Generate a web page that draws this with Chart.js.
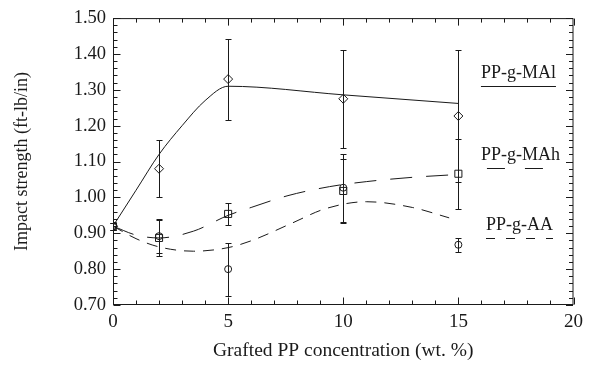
<!DOCTYPE html>
<html>
<head>
<meta charset="utf-8">
<title>Impact strength vs grafted PP concentration</title>
<script src="https://cdn.jsdelivr.net/npm/chart.js@4.4.1/dist/chart.umd.min.js"></script>
<style>
  html, body { margin: 0; padding: 0; background: #fff; }
  #chart { display: block; }
</style>
</head>
<body>
<canvas id="chart" width="589" height="366"></canvas>
<script>
// === measured points (wt. % grafted PP) ===
const conc = [0, 2, 5, 10, 15];

const malVals = [0.92, 1.08, 1.33, 1.275, 1.227];
const malErr  = [0.01, 0.08, 0.113, 0.136, 0.183];

const mahVals = [0.92, 0.887, 0.954, 1.018, 1.066];
const mahErr  = [0.01, 0.05, 0.03, 0.09, 0.097];

const aaVals  = [0.92, 0.892, 0.80, 1.027, 0.868];
const aaErr   = [0.01, 0.048, 0.074, 0.095, 0.02];

// === fitted curves ===
const malCurveX = [0, 1, 2, 3, 4, 5, 10, 15];
const malCurveY = [0.92, 1.02, 1.12, 1.20, 1.27, 1.31, 1.286, 1.262];

const mahCurveX = [0, 1, 2, 3.5, 5, 6, 7.6, 9.4, 11, 13, 15];
const mahCurveY = [0.92, 0.895, 0.887, 0.906, 0.950, 0.972, 1.005, 1.03, 1.044, 1.056, 1.064];

const aaCurveX = [0, 1, 2, 3.5, 5, 6, 7.8, 9.2, 11, 13, 14.6];
const aaCurveY = [0.92, 0.885, 0.862, 0.85, 0.86, 0.879, 0.929, 0.968, 0.988, 0.972, 0.943];

// === series labels drawn inside the plot ===
const seriesNames = ["PP-g-MAl", "PP-g-MAh", "PP-g-AA"];
const labelX = [15.98, 15.98, 16.2];
const labelY = [1.332, 1.104, 0.909];

const INK = "#1a1a1a";
const FONT = "'Liberation Serif', 'Times New Roman', serif";

function pts(xs, ys) {
  return xs.map((v, i) => ({ x: v, y: ys[i] }));
}

// error bars
const errorBars = {
  id: "errorBars",
  afterDatasetsDraw(chart) {
    const { ctx, scales: { x, y } } = chart;
    ctx.save();
    ctx.strokeStyle = INK;
    ctx.lineWidth = 1;
    chart.data.datasets.forEach(ds => {
      if (!ds.errors) return;
      ds.data.forEach((p, j) => {
        const e = ds.errors[j];
        if (!e) return;
        const px = Math.round(x.getPixelForValue(p.x)) + 0.5;
        const top = Math.round(y.getPixelForValue(p.y + e)) + 0.5;
        const bot = Math.round(y.getPixelForValue(p.y - e)) + 0.5;
        ctx.beginPath();
        ctx.moveTo(px, top); ctx.lineTo(px, bot);
        ctx.moveTo(px - 3, top); ctx.lineTo(px + 3, top);
        ctx.moveTo(px - 3, bot); ctx.lineTo(px + 3, bot);
        ctx.stroke();
      });
    });
    ctx.restore();
  }
};

// box + inward ticks on all four sides
const frame = {
  id: "frame",
  beforeDatasetsDraw(chart) {
    const { ctx, chartArea: a, scales: { x, y } } = chart;
    ctx.save();
    ctx.strokeStyle = INK;
    ctx.lineWidth = 1;
    const L = a.left + 0.5, R = a.right - 0.5, T = a.top + 0.5, B = a.bottom - 0.5;
    ctx.strokeRect(L, T, R - L, B - T);
    ctx.beginPath();
    for (let k = 0; k <= 20; k++) {
      const len = k % 5 === 0 ? 7 : 4;
      const px = Math.round(x.getPixelForValue(k)) + 0.5;
      ctx.moveTo(px, B); ctx.lineTo(px, B - len);
      ctx.moveTo(px, T); ctx.lineTo(px, T + len);
    }
    for (let k = 0; k <= 40; k++) {
      const len = k % 5 === 0 ? 7 : 4;
      const py = Math.round(y.getPixelForValue(0.7 + k * 0.02)) + 0.5;
      ctx.moveTo(L, py); ctx.lineTo(L + len, py);
      ctx.moveTo(R, py); ctx.lineTo(R - len, py);
    }
    ctx.stroke();
    ctx.restore();
  }
};

// in-plot series labels with line-style underline
const seriesLabels = {
  id: "seriesLabels",
  afterDraw(chart) {
    const { ctx, scales: { x, y } } = chart;
    const dashes = [[], [18, 20], [9, 11]];
    ctx.save();
    ctx.fillStyle = INK;
    ctx.strokeStyle = INK;
    ctx.lineWidth = 1;
    ctx.font = "18px " + FONT;
    ctx.textBaseline = "alphabetic";
    seriesNames.forEach((name, i) => {
      const px = x.getPixelForValue(labelX[i]);
      const py = y.getPixelForValue(labelY[i]);
      ctx.fillText(name, px, py);
      const w = ctx.measureText(name).width;
      ctx.setLineDash(dashes[i]);
      ctx.lineDashOffset = i === 1 ? -6 : 0;
      ctx.beginPath();
      ctx.moveTo(px, Math.round(py + 8) + 0.5);
      ctx.lineTo(px + w, Math.round(py + 8) + 0.5);
      ctx.stroke();
    });
    ctx.restore();
  }
};

function markerSet(label, vals, errs, style, radius) {
  return {
    label,
    data: pts(conc, vals),
    errors: errs,
    showLine: false,
    pointStyle: style,
    pointRadius: radius,
    pointBorderWidth: 1,
    pointBorderColor: INK,
    pointBackgroundColor: "rgba(255,255,255,0)"
  };
}

function curveSet(label, xs, ys, dash) {
  return {
    label,
    data: pts(xs, ys),
    borderColor: INK,
    borderWidth: 1,
    borderDash: dash,
    pointRadius: 0,
    fill: false,
    cubicInterpolationMode: "monotone"
  };
}

Chart.defaults.font.family = FONT;
Chart.defaults.color = INK;

new Chart(document.getElementById("chart"), {
  type: "line",
  data: {
    datasets: [
      curveSet("PP-g-MAl fit", malCurveX, malCurveY, []),
      curveSet("PP-g-MAh fit", mahCurveX, mahCurveY, [22, 14]),
      curveSet("PP-g-AA fit", aaCurveX, aaCurveY, [11, 8]),
      markerSet("PP-g-MAl", malVals, malErr, "rectRot", 4.5),
      markerSet("PP-g-MAh", mahVals, mahErr, "rect", 5),
      markerSet("PP-g-AA", aaVals, aaErr, "circle", 3.5)
    ]
  },
  options: {
    responsive: false,
    animation: false,
    layout: { padding: { top: 14, right: 13, left: 0, bottom: 0 } },
    plugins: {
      legend: { display: false },
      tooltip: { enabled: false }
    },
    scales: {
      x: {
        type: "linear",
        min: 0,
        max: 20,
        grid: { display: false, drawTicks: false },
        border: { display: false },
        ticks: { stepSize: 5, padding: 6, font: { size: 19 }, color: INK },
        title: { display: true, text: "Grafted PP concentration (wt. %)", font: { size: 19.5 }, color: INK, padding: { top: 0, bottom: 3 } },
        afterFit(scale) { scale.height = 61; }
      },
      y: {
        min: 0.7,
        max: 1.5,
        grid: { display: false, drawTicks: false },
        border: { display: false },
        ticks: { stepSize: 0.1, padding: 7, font: { size: 18.5 }, color: INK, callback: v => v.toFixed(2) },
        title: { display: true, text: "Impact strength (ft-lb/in)", font: { size: 18 }, color: INK, padding: { top: 11, bottom: 0 } },
        afterFit(scale) { scale.width = 113; }
      }
    }
  },
  plugins: [frame, errorBars, seriesLabels]
});
</script>
</body>
</html>
